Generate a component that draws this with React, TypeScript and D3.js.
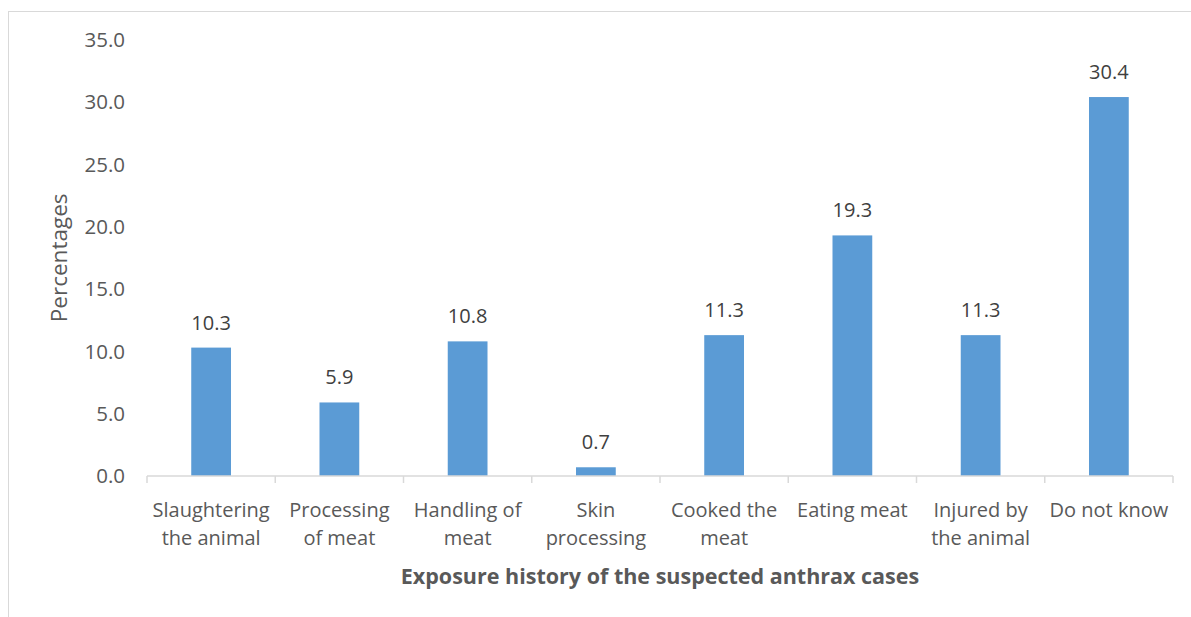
import { useEffect, useRef } from "react";
import * as d3 from "d3";

// exposure history data
const categories = [
  "Slaughtering\nthe animal",
  "Processing\nof meat",
  "Handling of\nmeat",
  "Skin\nprocessing",
  "Cooked the\nmeat",
  "Eating meat",
  "Injured by\nthe animal",
  "Do not know",
];
const percentages = [10.3, 5.9, 10.8, 0.7, 11.3, 19.3, 11.3, 30.4];
const yTicks = [0, 5, 10, 15, 20, 25, 30, 35];
const xTitle = "Exposure history of the suspected anthrax cases";
const yTitle = "Percentages";

const W = 1191;
const H = 617;
const FONT = "'Open Sans', sans-serif";

const App = () => {
  const svgRef = useRef<SVGSVGElement | null>(null);

  useEffect(() => {
    const svg = d3.select(svgRef.current);
    svg.selectAll("*").remove();

    const margin = { top: 39.7, right: 18, bottom: 141, left: 147 };
    const width = W - margin.left - margin.right;
    const height = H - margin.top - margin.bottom;

    svg
      .append("rect")
      .attr("x", 8.5)
      .attr("y", 11.5)
      .attr("width", W + 20)
      .attr("height", H + 20)
      .attr("fill", "white")
      .attr("stroke", "#d9d9d9");

    const g = svg
      .append("g")
      .attr("transform", `translate(${margin.left}, ${margin.top})`);

    const xScale = d3
      .scaleBand()
      .domain(categories)
      .range([0, width])
      .paddingInner(0.69)
      .paddingOuter(0.345);

    const yScale = d3.scaleLinear().domain([0, 35]).range([height, 0]);

    // y tick labels
    g.selectAll(".ytick")
      .data(yTicks)
      .join("text")
      .attr("class", "ytick")
      .attr("x", -22)
      .attr("y", (d) => yScale(d))
      .attr("dy", "0.36em")
      .attr("text-anchor", "end")
      .attr("font-family", FONT)
      .attr("font-size", 20.5)
      .attr("fill", "#595959")
      .text((d) => d.toFixed(1));

    // bars
    g.selectAll(".bar")
      .data(percentages)
      .join("rect")
      .attr("class", "bar")
      .attr("x", (d, i) => xScale(categories[i]) as number)
      .attr("y", (d) => yScale(d))
      .attr("width", xScale.bandwidth())
      .attr("height", (d) => height - yScale(d))
      .attr("fill", "#5b9bd5");

    // value labels
    g.selectAll(".val")
      .data(percentages)
      .join("text")
      .attr("class", "val")
      .attr("x", (d, i) => (xScale(categories[i]) as number) + xScale.bandwidth() / 2)
      .attr("y", (d) => yScale(d) - 18)
      .attr("text-anchor", "middle")
      .attr("font-family", FONT)
      .attr("font-size", 20)
      .attr("fill", "#404040")
      .text((d) => d.toFixed(1));

    // x axis line + boundary ticks
    const step = xScale.step();
    const axis = g.append("g").attr("transform", `translate(0, ${height})`);
    axis
      .append("line")
      .attr("x1", 0)
      .attr("x2", width)
      .attr("stroke", "#d9d9d9")
      .attr("stroke-width", 1.5);
    axis
      .selectAll(".xtick")
      .data(d3.range(categories.length + 1))
      .join("line")
      .attr("class", "xtick")
      .attr("x1", (d) => d * step)
      .attr("x2", (d) => d * step)
      .attr("y1", 0)
      .attr("y2", 7)
      .attr("stroke", "#d9d9d9")
      .attr("stroke-width", 1.5);

    // category labels
    axis
      .selectAll(".xlab")
      .data(categories)
      .join("text")
      .attr("class", "xlab")
      .attr("x", (d) => (xScale(d) as number) + xScale.bandwidth() / 2)
      .attr("y", 41)
      .attr("text-anchor", "middle")
      .attr("font-family", FONT)
      .attr("font-size", 20)
      .attr("fill", "#595959")
      .each(function (d) {
        const t = d3.select(this);
        d.split("\n").forEach((line, i) => {
          t.append("tspan")
            .attr("x", (xScale(d) as number) + xScale.bandwidth() / 2)
            .attr("dy", i === 0 ? 0 : 28)
            .text(line);
        });
      });

    // axis titles
    g.append("text")
      .attr("x", width / 2)
      .attr("y", height + 108)
      .attr("text-anchor", "middle")
      .attr("font-family", FONT)
      .attr("font-size", 21.5)
      .attr("font-weight", "bold")
      .attr("fill", "#595959")
      .text(xTitle);

    g.append("text")
      .attr("transform", "rotate(-90)")
      .attr("x", -height / 2)
      .attr("y", -80)
      .attr("text-anchor", "middle")
      .attr("font-family", FONT)
      .attr("font-size", 22.5)
      .attr("fill", "#595959")
      .text(yTitle);
  }, []);

  return (
    <svg
      ref={svgRef}
      width={W}
      height={H}
      style={{ position: "absolute", left: 0, top: 0, background: "white" }}
    />
  );
};

export default App;
